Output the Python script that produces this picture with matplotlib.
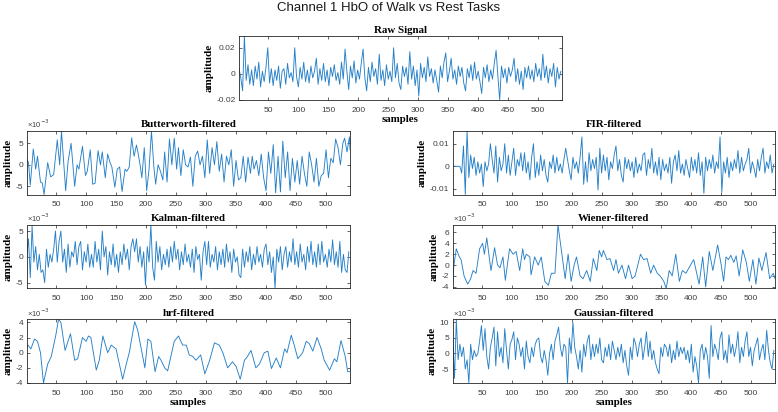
import numpy as np
import matplotlib
matplotlib.use("Agg")
import matplotlib.pyplot as plt

# ---------------------------------------------------------------------------
# signals read off the picture (noisy ones sampled every 3rd sample,
# smooth ones given at their peaks / troughs)
# ---------------------------------------------------------------------------
step_samples = np.arange(1, 541, 3)

raw_signal = [4, -3, -13, 29, -5, 7, -8, 3, -9, 6,
              -4, 9, -10, 2, -6, 5, 20, -7, 4, -9,
              3, -5, 6, -11, 2, 4, -8, 8, -3, 1,
              -6, 20, -2, -10, 5, -4, 9, -6, 3, -7,
              6, -3, 2, 12, -8, 4, -5, 8, -6, 3,
              -9, 5, -2, 7, -5, 1, -8, 9, -4, 19,
              2, -12, 6, -3, 10, -7, 3, -4, 8, 19,
              -3, -13, 5, -6, 9, -2, 4, -8, 15, -5,
              3, -9, 7, -4, 2, -6, 20, -3, 8, -7,
              -12, 6, -2, 5, -8, 17, -4, 6, -9, 3,
              -17, 8, -3, 5, -6, 13, -2, 4, -7, 3,
              -5, -14, 6, -3, 9, 16, -6, 2, 12, -4,
              3, -8, 6, -2, 5, -7, -13, 4, -3, 7,
              -5, 9, -4, 2, -6, -15, 5, -3, 7, -6,
              3, -4, 8, 18, -2, -20, 6, -3, 4, -7,
              5, -2, 3, 12, -6, 4, -8, 2, -12, 5,
              -3, 6, -4, 3, -6, 8, -2, 4, -5, 15,
              -3, 6, -7, 4, -2, 8, -10, 5, -4, 2]  # x 1e-3

kalman = [0, 3.5, -4, 6, -1, 2, -2.5, 0.5, -3, -2.5,
          -5, 1.5, -2, 0.5, -1, 1.5, 5, -1, 3, 5,
          -1, 1.5, -3, 2.5, -2, 1, 0, 3, -1.5, 2,
          3, -2.5, 1, -1, 2.5, -2, 0.5, -2, 3, -1,
          1.5, -2.5, 5, 0, 2, -3.5, 1, -1.5, 2.5, -2,
          0.5, -3, 1, -1.5, 2.5, -0.5, 1.5, -2.5, 2, 3.5,
          1, 3.5, -1, 2, -2, 1, -5.5, 2, -1, 6.2,
          -2, -4.5, 3, -1, 2, -2.5, 0.5, -1.5, 1.5, -2,
          2, -1, 3, -0.5, 1.5, -2.5, 1, -1.5, 2.5, -1,
          0.5, -2, 1.5, -3, 2, -0.5, 0.5, -4.5, 1, 3,
          -1.5, 3, -2, 0.5, -1, 2, -2.5, 1, -1.5, 1.5,
          -2, 2.5, -1, 1, -3, 1.5, -1, 0, -3.5, -4,
          1.5, -2, 1, -1, 2, -2.5, 0.5, -1.5, 2, -1,
          0.5, -2, 1.5, 2.5, -1.5, 1, -3, 0, -6.1, 1.5,
          -1, 2, -2.5, 0.5, 2, -2, 1, -1, 3.5, -1.5,
          1, -2, 2.5, -1, 0.5, -2.5, 2, -1, 3, -1.5,
          1, -2, 2.5, -1.5, 3, -1, 0.5, -2, 1.5, -1,
          3.3, -1.5, 1, -2, 3, -3, 0.5, -2.5, -3, 1]  # x 1e-3

fir = [0, 0, 0, 0, 0, -3, 9, -12.5, 15.7, -5,
       5, -1, 4, -4, 2, -3, 1, -9, 2, -2,
       1, 10, 3, -3, 9, -7, 4, -2, 1, 10,
       -3, 5, -4, 2, 8, -4, 3, 0, 6, -2,
       6, -3, 2, -6, 4, 10, -5, 2, -4, 5,
       -2, 3, -4, -7, 2, -1, 5, -3, 4, -2,
       1, -3, 3, 8, 3, -2, -6, 4, -1, 2,
       -3, 4, 13, -8, 2, -7, 6, -2, 3, -1,
       4, -10.5, 8, -3, 5, -2, 4, -6, 2, -1,
       5, 9, -2, 3, -4, -7, 4, -1, 3, -2,
       2, -5, 4, -3, 1, -2, 5, 6, -4, 3,
       -1, 8, -3, 2, -4, 4, -6, 3, -2, 1,
       -3, 4, -7.5, 2, 5, -2, 7, -3, 1, -4,
       3, -1, -5, 4, -2, 3, -3, 6, -4, 2,
       -12, 4, -2, 3, -1, 5, -3, 2, -1, 13,
       -11.5, 2, -3, 4, -5, 2, -2, 3, -1, 7,
       -3, 4, -2, 1, 3, 8, -3, 2, -1, -5,
       3, -2, 4, 8, -3, 2, -1, 5, -3, 1]  # x 1e-3

gaussian = [5, -8, 11, -2, 3, -1, 2, -5, -2, -9.5,
            3, -2, 1, -1, 0, 4, 9, 1, 8, -1,
            -5, 2, 5, 8.5, -4, 7, -1, 2, -3, 8,
            1, -5, 3, 4.5, 7, -2, 5, 3, -1, 2,
            -5, 4, -1, -3, 2, -1, 3, 4.5, 5, -1,
            -3, 1, -2, -7, 0, 3, -2, 4, 6, 8.5,
            2, -1, 3, 2, -9.5, 5, 0, 10, 2, -1,
            -5, 1, -6, 3, -1, 4, 6, -2, 3, -1,
            3, 0, 5, -2, -3, 2, -1, 3, -2, 4,
            1, -2, 2, -1, 3, -3, 1, -4, -7, 2,
            -2, 5, 3, -1, 3, 5, -2, 2, 7, -1,
            4, -2, 1, -3, -5, -6.5, 2, -1, 3, 2,
            -1, 3, -3, 1, -2, 4, -1, 2, 0, 2,
            -2, 1, -3, 3, -6, -1, -4, -9.5, 1, 3,
            -2, 2, -1, -8, 9, -1, 3, 1, -2, 5,
            7, -2, 1, -3, 6, 0, 3, -1, 2, 7,
            -3, 2, -1, 4, 7, -1, 2, -4, 1, 3,
            5, -2, 1, 3, -2, 7.5, 1, -3, -5, 1]  # x 1e-3

butter_x = [1, 4, 7, 12, 16, 19, 24, 27, 30, 36, 41, 46, 52, 56, 59, 66, 70, 75,
            81, 85, 88, 94, 99, 102, 107, 111, 115, 120, 124, 127, 132, 136, 140,
            143, 148, 152, 156, 160, 165, 168, 172, 176, 180, 184, 187, 190, 193,
            197, 201, 205, 209, 213, 216, 220, 224, 228, 231, 235, 239, 243, 247,
            251, 254, 258, 262, 266, 270, 274, 278, 282, 286, 290, 294, 298, 302,
            306, 310, 314, 318, 322, 326, 330, 334, 338, 342, 346, 350, 354, 358,
            362, 366, 370, 374, 377, 380, 384, 388, 392, 396, 400, 404, 408, 412,
            416, 420, 424, 428, 432, 436, 440, 444, 448, 452, 456, 460, 464, 468,
            472, 476, 480, 484, 488, 492, 496, 500, 504, 508, 512, 516, 520, 524,
            528, 531, 535, 539, 540]
butter_y = [1.5, 0.5, -4.7, 3.7, -1, 2, -4, -4.2, -6.9, 0.5, -2.8, -2.3, 5.8, 0,
            7.9, -6, 0.8, 5, -5, 0, -1, 4.3, -2.5, -1.5, 3.5, -4.5, -4.3, 3.3, 0,
            3, -3, 2.5, 0.5, -0.5, -5.2, -1, -0.5, -6.2, -1, -1.5, -0.5, 6.3, 2,
            4.6, 2.5, 0, -3, 4, -6, -1, 7.9, -0.5, -4.5, 0, -1.5, -3.5, 3, -4, 6,
            0, 6.2, -1, 4, -2.5, 3.5, 0, -0.5, 1.8, -5, 2, 3.2, 0, 2, -3, 5.8, -2,
            4, 0, 5.4, -1.5, 2.5, -4, 2, 0, 3.5, -5, 1, -3.5, -3, 2, -4, 1.8, -2,
            2, -1, 1, -2.5, 2.5, -3, -6, 3, -2, 4.7, -6.5, 2, -6.3, 5.5, -3, 3,
            -6, 1.5, -4, 1, -4.5, 2, -2, -5, 3, 0, -4, 1.5, -5, -2.5, -2, 3.5, -3,
            1.5, 0.5, 6, 4, 0, 5, 6.2, 3, 6.5, 3.5]  # x 1e-3

hrf_x = [1, 3, 8, 14, 19, 24, 29, 36, 42, 50, 54, 58, 65, 74, 81, 86, 94, 100,
         104, 108, 117, 122, 128, 136, 142, 150, 161, 167, 172, 181, 186, 192,
         198, 203, 208, 215, 221, 225, 231, 236, 247, 254, 261, 267, 272, 278,
         283, 291, 298, 306, 314, 322, 328, 336, 344, 350, 357, 364, 369, 375,
         383, 389, 397, 403, 409, 417, 424, 431, 435, 442, 447, 453, 461, 467,
         472, 478, 485, 492, 497, 506, 514, 518, 525, 532, 536, 540]
hrf_y = [0.8, 1, 0.5, 1.8, 1.5, 0, -4, -1.5, -0.5, 2.5, 4.4, 4, 0.3, 2.5, -1,
         -0.8, 2, 1.5, 2.2, 2, -2.3, -1, 2.2, 0, 1, 0.5, -3.5, -1.5, 0, 4.1, 3,
         0.5, -2, 1.8, 1.5, -2.5, -0.5, -1, -2, -2.4, 1.5, 2.2, 1, 1, -0.3, -0.5,
         -1, -0.3, -2.8, -1, 1.3, 1, 0, -2, -1.2, -1.8, -3.5, -1, -0.5, 0.3, -2,
         -1.5, 0, 0.2, -2.1, -0.7, -2, 0.5, 0, 2.3, 1, -0.8, 0, 1.5, 1.2, 0.2, 2,
         0.5, -1, -2.3, -0.8, -1.2, 1.6, -0.5, -2.5, -2.5]  # x 1e-3

wiener_x = [1, 3, 7, 12, 15, 20, 26, 31, 35, 40, 46, 51, 54, 58, 62, 65, 71, 76,
            80, 85, 89, 96, 102, 107, 113, 118, 121, 124, 130, 132, 138, 144, 149,
            155, 161, 166, 172, 177, 183, 189, 194, 199, 204, 208, 214, 219, 225,
            231, 236, 242, 246, 250, 253, 259, 264, 270, 274, 278, 284, 290, 295,
            301, 306, 315, 320, 326, 332, 337, 343, 348, 354, 358, 363, 368, 374,
            380, 385, 391, 396, 404, 407, 413, 419, 424, 430, 436, 444, 450, 454,
            458, 462, 466, 471, 475, 480, 486, 492, 497, 503, 508, 513, 518, 525,
            531, 537, 540]
wiener_y = [-3, 0, 3, 1.5, 1, -2, -3.5, -2.5, -1, -1.5, 3, 4, 2, 5, 1.5, -1, 3.2,
            0, -0.5, 1.5, -2.8, 3, 2, 2.5, -1, 3, 1, 2, 1.5, -1.8, 1.5, 0, 1.5, -3,
            -3.7, -1.5, -1.5, 7.4, 2.5, -2.5, 2, -3, 0, 1.5, -2, -2.5, -1, -3, 1.2,
            -1, 2.7, 1.5, 2.7, 1, 1.2, -1, 1, -1.5, 0, -2.5, 0, -2.5, -2, 2, 1, 1.2,
            -1.5, 0, -1.5, -2, -3, -4.3, -1, -2, 2, -3, -1, -1.5, -0.5, 1, -0.5,
            -3.5, 1.5, -4, 2.5, -1, 3.7, 0, -3, 1.5, 1, 1.8, 0.5, 1.7, -2, 2.8, 0.5,
            -3, 1, -3.5, 1.3, -1, 2.3, -2.5, -1.5, -2.5]  # x 1e-3

x_ticks = [50, 100, 150, 200, 250, 300, 350, 400, 450, 500]

line_color = '#2680c8'
text_gray = '#262626'
serif = ['Liberation Serif', 'DejaVu Serif']
sans = ['Liberation Sans', 'DejaVu Sans']

plt.rcParams['font.family'] = sans
plt.rcParams['axes.linewidth'] = 0.6

fig = plt.figure(figsize=(7.78, 4.12), dpi=100)


def panel(rect, x, y, title, yticks, yticklabels, scale=None, xlabel=False):
    ax = fig.add_axes(rect)
    ax.plot(x, y, color=line_color, lw=0.65)
    ax.set_xlim(1, 540)
    ax.set_ylim(min(y), max(y))
    ax.set_xticks(x_ticks)
    ax.set_yticks(yticks)
    ax.set_yticklabels(yticklabels)
    ax.tick_params(direction='in', top=True, right=True, length=2.5, width=0.5,
                   labelsize=6, colors=text_gray, labelcolor='#404040')
    ax.tick_params(axis='x', pad=5)
    ax.tick_params(axis='y', pad=2.5)
    for sp in ax.spines.values():
        sp.set_color(text_gray)
    ax.set_title(title, fontsize=7.8, fontweight='bold', family=serif, pad=2.5)
    ax.set_ylabel('amplitude', fontsize=8, fontweight='bold', family=serif, labelpad=2)
    if xlabel:
        ax.set_xlabel('samples', fontsize=7.8, fontweight='bold', family=serif, labelpad=0.5)
    if scale:
        ax.text(0, 1.01, scale, transform=ax.transAxes, fontsize=5.5,
                color='#404040', ha='left', va='bottom')
    return ax


mult = '\u00d710$^{-3}$'

# left column / right column axes boxes (figure fractions)
left_l, left_w = 0.0343, 0.4156
right_l, right_w = 0.5819, 0.4143
row_b = [0.5279, 0.2998, 0.0704]
row_h = 0.1545

panel([0.3072, 0.7573, 0.4152, 0.1553], step_samples, np.array(raw_signal) * 1e-3,
      'Raw Signal', [-0.02, 0, 0.02], ['-0.02', '0', '0.02'], xlabel=True)

panel([left_l, row_b[0], left_w, row_h], butter_x, butter_y,
      'Butterworth-filtered', [-5, 0, 5], ['-5', '0', '5'], scale=mult)
panel([left_l, row_b[1], left_w, row_h], step_samples, kalman,
      'Kalman-filtered', [-5, 0, 5], ['-5', '0', '5'], scale=mult)
panel([left_l, row_b[2], left_w, row_h], hrf_x, hrf_y,
      'hrf-filtered', [-4, -2, 0, 2, 4], ['-4', '-2', '0', '2', '4'],
      scale=mult, xlabel=True)

panel([right_l, row_b[0], right_w, row_h], step_samples, np.array(fir) * 1e-3,
      'FIR-filtered', [-0.01, 0, 0.01], ['-0.01', '0', '0.01'])
panel([right_l, row_b[1], right_w, row_h], wiener_x, wiener_y,
      'Wiener-filtered', [-4, -2, 0, 2, 4, 6], ['-4', '-2', '0', '2', '4', '6'],
      scale=mult)
panel([right_l, row_b[2], right_w, row_h], step_samples, gaussian,
      'Gaussian-filtered', [-5, 0, 5, 10], ['-5', '0', '5', '10'],
      scale=mult, xlabel=True)

fig.text(0.5, 0.981, 'Channel 1 HbO of Walk vs Rest Tasks', ha='center', va='center',
         fontsize=9.5, color='#1a1a1a')

fig.savefig('out.png', dpi=100)
